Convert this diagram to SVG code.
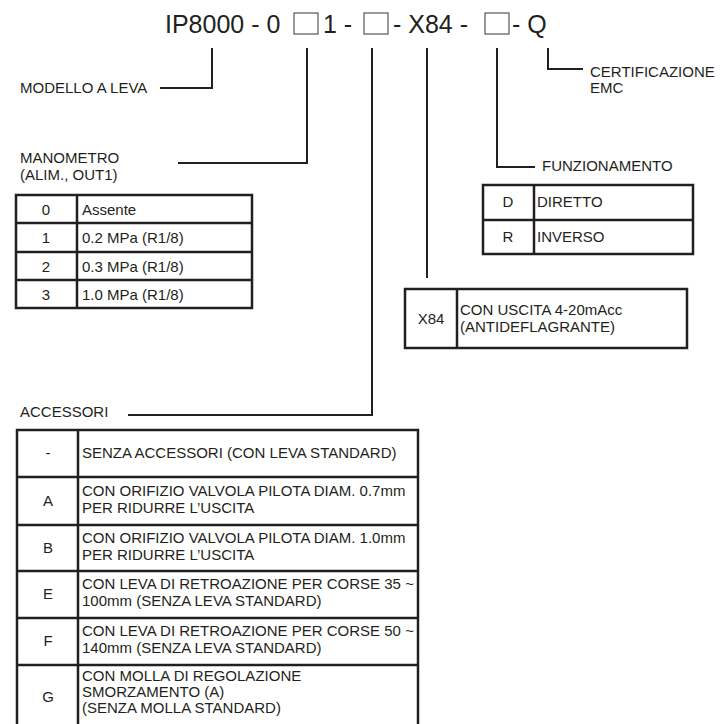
<svg xmlns="http://www.w3.org/2000/svg" width="722" height="724" viewBox="0 0 722 724">
<style>
text{font-family:"Liberation Sans",Arial,sans-serif;fill:#231f20;}
.h{font-size:25px;}
.t{font-size:15px;}
.c{text-anchor:middle;}
.box{fill:none;stroke:#555;stroke-width:1.2;}
.tb{fill:none;stroke:#231f20;stroke-width:2.5;}
.cn{fill:none;stroke:#231f20;stroke-width:2;}
</style>
<rect width="722" height="724" fill="#fff"/>
<g id="header">
<text class="h" x="165" y="33">IP8000 - 0</text>
<rect class="box" x="294" y="13" width="24" height="21"/>
<text class="h" x="323" y="33">1 -</text>
<rect class="box" x="364" y="13" width="24" height="21"/>
<text class="h" x="393" y="33">- X84 -</text>
<rect class="box" x="485" y="13" width="24" height="21"/>
<text class="h" x="512" y="33">- Q</text>
</g>
<g id="connectors">
<polyline class="cn" points="212,48 212,88 160,88"/>
<polyline class="cn" points="307,48 307,163 178,163"/>
<polyline class="cn" points="372,48 372,415 128,415"/>
<polyline class="cn" points="427,48 427,278"/>
<polyline class="cn" points="497,48 497,167 535,167"/>
<polyline class="cn" points="548,48 548,69 583,69"/>
</g>
<g id="modello">
<text class="t" x="20" y="93">MODELLO A LEVA</text>
</g>
<g id="manometro">
<text class="t" x="20" y="163">MANOMETRO</text>
<text class="t" x="20" y="180">(ALIM., OUT1)</text>
<rect class="tb" x="16" y="195" width="236" height="113"/>
<line class="tb" x1="77" y1="195" x2="77" y2="308"/>
<line class="tb" x1="16" y1="223" x2="252" y2="223"/>
<line class="tb" x1="16" y1="252" x2="252" y2="252"/>
<line class="tb" x1="16" y1="280" x2="252" y2="280"/>
<text class="t c" x="46" y="215">0</text><text class="t" x="82" y="215">Assente</text>
<text class="t c" x="46" y="243">1</text><text class="t" x="82" y="243">0.2 MPa (R1/8)</text>
<text class="t c" x="46" y="272">2</text><text class="t" x="82" y="272">0.3 MPa (R1/8)</text>
<text class="t c" x="46" y="300">3</text><text class="t" x="82" y="300">1.0 MPa (R1/8)</text>
</g>
<g id="certificazione">
<text class="t" x="590" y="77">CERTIFICAZIONE</text>
<text class="t" x="590" y="93">EMC</text>
</g>
<g id="funzionamento">
<text class="t" x="542" y="171">FUNZIONAMENTO</text>
<rect class="tb" x="483" y="185" width="210" height="69"/>
<line class="tb" x1="534" y1="185" x2="534" y2="254"/>
<line class="tb" x1="483" y1="220" x2="693" y2="220"/>
<text class="t c" x="508" y="207">D</text><text class="t" x="537" y="207">DIRETTO</text>
<text class="t c" x="508" y="242">R</text><text class="t" x="537" y="242">INVERSO</text>
</g>
<g id="x84">
<rect class="tb" x="405" y="289" width="282" height="59"/>
<line class="tb" x1="457" y1="289" x2="457" y2="348"/>
<text class="t c" x="431" y="324">X84</text>
<text class="t" x="460" y="315">CON USCITA 4-20mAcc</text>
<text class="t" x="460" y="332">(ANTIDEFLAGRANTE)</text>
</g>
<g id="accessori">
<text class="t" x="20" y="417">ACCESSORI</text>
<rect class="tb" x="17" y="430" width="401" height="298"/>
<line class="tb" x1="78" y1="430" x2="78" y2="728"/>
<line class="tb" x1="17" y1="477" x2="418" y2="477"/>
<line class="tb" x1="17" y1="525" x2="418" y2="525"/>
<line class="tb" x1="17" y1="571" x2="418" y2="571"/>
<line class="tb" x1="17" y1="618" x2="418" y2="618"/>
<line class="tb" x1="17" y1="665" x2="418" y2="665"/>
<text class="t c" x="48" y="458">-</text>
<text class="t" x="82" y="458">SENZA ACCESSORI (CON LEVA STANDARD)</text>
<text class="t c" x="48" y="506">A</text>
<text class="t" x="82" y="496">CON ORIFIZIO VALVOLA PILOTA DIAM. 0.7mm</text>
<text class="t" x="82" y="513">PER RIDURRE L’USCITA</text>
<text class="t c" x="48" y="553">B</text>
<text class="t" x="82" y="543">CON ORIFIZIO VALVOLA PILOTA DIAM. 1.0mm</text>
<text class="t" x="82" y="560">PER RIDURRE L’USCITA</text>
<text class="t c" x="48" y="599">E</text>
<text class="t" x="82" y="589">CON LEVA DI RETROAZIONE PER CORSE 35 ~</text>
<text class="t" x="82" y="606">100mm (SENZA LEVA STANDARD)</text>
<text class="t c" x="48" y="646">F</text>
<text class="t" x="82" y="636">CON LEVA DI RETROAZIONE PER CORSE 50 ~</text>
<text class="t" x="82" y="653">140mm (SENZA LEVA STANDARD)</text>
<text class="t c" x="48" y="702">G</text>
<text class="t" x="82" y="681">CON MOLLA DI REGOLAZIONE</text>
<text class="t" x="82" y="697">SMORZAMENTO (A)</text>
<text class="t" x="82" y="713">(SENZA MOLLA STANDARD)</text>
</g>
</svg>
